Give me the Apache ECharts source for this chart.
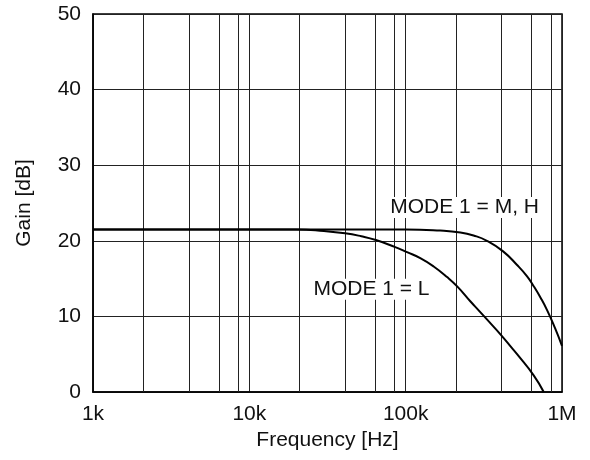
<!DOCTYPE html>
<html>
<head>
<meta charset="utf-8">
<script src="https://cdn.jsdelivr.net/npm/echarts@6/dist/echarts.min.js"></script>
<style>
html,body{margin:0;padding:0;background:#fff;}
#chart{width:590px;height:460px;}
</style>
</head>
<body>
<div id="chart"></div>
<script>
// ---- data ----
const tickValues = [1000, 10000, 100000, 1000000];
const tickLabels = ['1k', '10k', '100k', '1M'];
const minorGridValues = [2100, 4100, 6400, 8500, 21000, 41000, 64000, 85000, 210000, 410000, 640000, 850000];

const freqMH = [1000, 10000, 100000, 166000, 224000, 272000, 331000, 420000, 516000, 598000, 659000, 728000, 804000, 900000, 1000000];
const gainMH = [21.5, 21.5, 21.5, 21.35, 21.1, 20.7, 20.0, 18.6, 16.8, 15.3, 14.0, 12.5, 10.8, 8.5, 6.1];

const freqL = [1000, 10000, 20000, 30000, 41000, 52000, 64500, 85000, 102000, 124000, 151000, 184000, 215000, 259000, 293000, 331000, 413000, 479000, 516000, 659000, 764000];
const gainL = [21.5, 21.5, 21.5, 21.3, 21.0, 20.6, 20.1, 19.2, 18.5, 17.7, 16.6, 15.2, 13.9, 12.0, 10.8, 9.6, 7.4, 5.8, 5.0, 2.2, 0.0];

const labelTexts = ['MODE 1 = M, H', 'MODE 1 = L'];
const labelFreqs = [79700, 25700];
const labelGains = [24.4, 13.6];

const yMin = 0, yMax = 50, yInterval = 10;

// ---- chart ----
const FONT = "'Liberation Sans', Arial, sans-serif";
const chart = echarts.init(document.getElementById('chart'), null, {renderer: 'canvas'});

function pairs(xs, ys) { return xs.map((x, i) => [x, ys[i]]); }

const option = {
  animation: false,
  backgroundColor: '#fff',
  textStyle: {fontFamily: FONT},
  grid: {
    left: 93, right: 28, top: 14, bottom: 68,
    show: true, borderColor: '#000', borderWidth: 1.5, backgroundColor: 'transparent'
  },
  xAxis: {
    type: 'log', logBase: 10, min: tickValues[0], max: tickValues[tickValues.length - 1],
    name: 'Frequency [Hz]', nameLocation: 'middle', nameGap: 35,
    nameTextStyle: {fontFamily: FONT, fontSize: 21, color: '#111'},
    axisLine: {show: true, lineStyle: {color: '#000', width: 1.5}},
    axisTick: {show: false},
    axisLabel: {
      fontFamily: FONT, fontSize: 21, color: '#111', margin: 12,
      formatter: function (v) {
        const idx = tickValues.findIndex(t => Math.abs(Math.log10(t) - Math.log10(v)) < 1e-6);
        return idx >= 0 ? tickLabels[idx] : '';
      }
    },
    splitLine: {show: true, lineStyle: {color: '#222', width: 1}},
    minorTick: {show: false}, minorSplitLine: {show: false}
  },
  yAxis: {
    type: 'value', min: yMin, max: yMax, interval: yInterval,
    name: 'Gain [dB]', nameLocation: 'middle', nameGap: 58, nameRotate: 90,
    nameTextStyle: {fontFamily: FONT, fontSize: 21, color: '#111'},
    axisLine: {show: true, lineStyle: {color: '#000', width: 1.5}},
    axisTick: {show: false},
    axisLabel: {fontFamily: FONT, fontSize: 21, color: '#111', margin: 12},
    splitLine: {show: true, lineStyle: {color: '#222', width: 1}}
  },
  series: [
    {
      name: 'grid-minor', type: 'line', data: [], silent: true,
      markLine: {
        silent: true, symbol: 'none', animation: false,
        label: {show: false},
        lineStyle: {color: '#222', width: 1, type: 'solid'},
        emphasis: {disabled: true},
        data: minorGridValues.map(v => ({xAxis: v}))
      }
    },
    {
      name: 'MODE 1 = L', type: 'line', data: pairs(freqL, gainL),
      showSymbol: false, smooth: 0.5, clip: true,
      lineStyle: {color: '#000', width: 2},
      z: 5
    },
    {
      name: 'MODE 1 = M, H', type: 'line', data: pairs(freqMH, gainMH),
      showSymbol: false, smooth: 0.5, clip: true,
      lineStyle: {color: '#000', width: 2},
      z: 5,
      markPoint: {
        silent: true, symbol: 'circle', symbolSize: 0, animation: false,
        label: {
          show: true, position: [0, 0], align: 'left', verticalAlign: 'middle',
          fontFamily: FONT, fontSize: 21, color: '#111',
          backgroundColor: '#fff', padding: [0, 2, 0, 0],
          formatter: p => p.name
        },
        data: labelTexts.map((t, i) => ({name: t, coord: [labelFreqs[i], labelGains[i]]}))
      }
    }
  ]
};
chart.setOption(option);
</script>
</body>
</html>
